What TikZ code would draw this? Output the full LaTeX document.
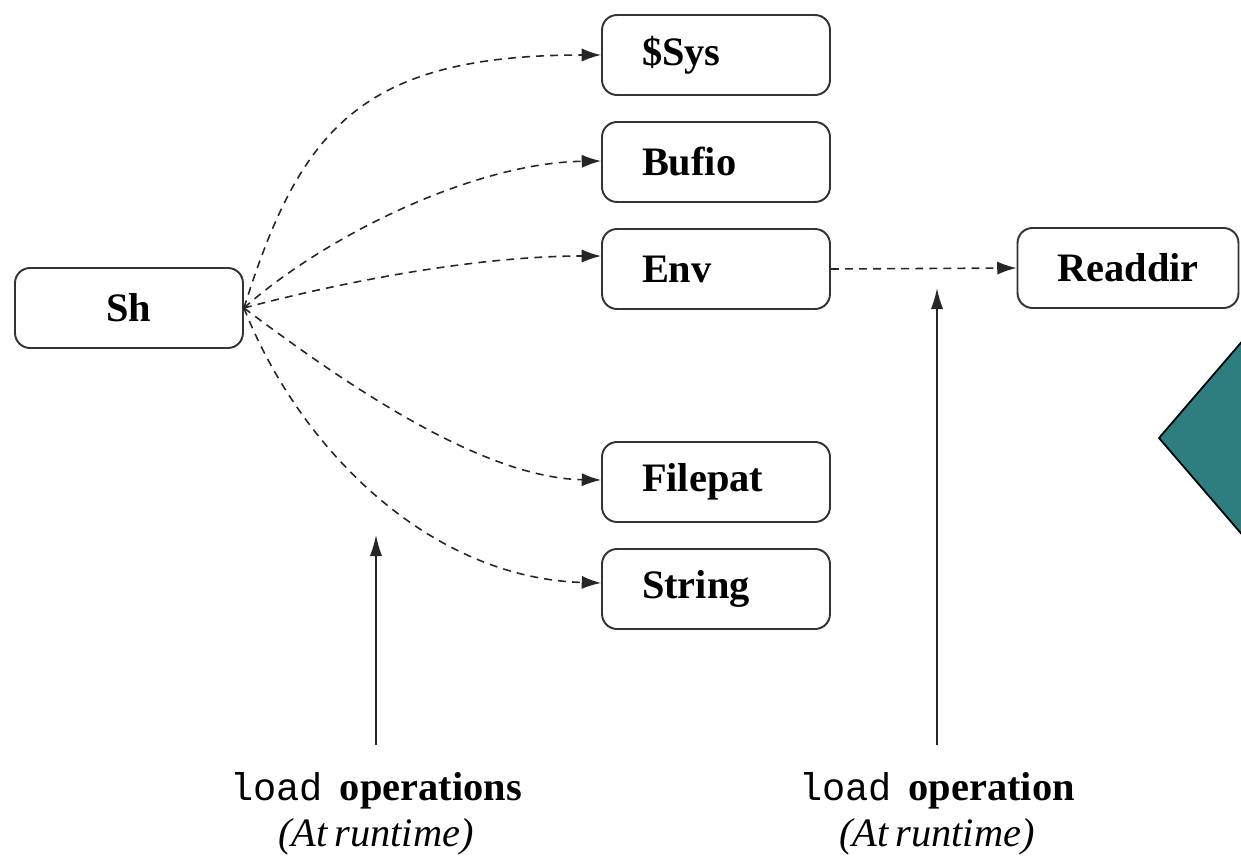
\documentclass[tikz,border=0pt]{standalone}
\usepackage{fontspec}
\setmainfont{Liberation Serif}
\setmonofont{Liberation Mono}
\usetikzlibrary{arrows.meta}
\definecolor{tealfill}{RGB}{46,125,127}
\tikzset{
  module/.style={draw=black!80, line width=1.1pt, rounded corners=0.3cm,
    minimum width=4.56cm, minimum height=1.6cm, font=\fontsize{23}{27}\selectfont\bfseries},
  leftmod/.style={module, text width=2.96cm, inner xsep=0.8cm, align=left},
  loadarrow/.style={draw=black!85, line width=0.9pt, dash pattern=on 4.5pt off 3.5pt,
    -{Latex[length=11pt,width=7.5pt]}},
  uparrow/.style={draw=black!85, line width=0.9pt, -{Latex[length=12pt,width=7pt]}},
  caption/.style={align=center, font=\fontsize{23}{27}\selectfont}
}
\begin{document}
\begin{tikzpicture}[x=0.02cm, y=-0.02cm]
\useasboundingbox (0,0) rectangle (1241,859);
% partially visible diamond at the right edge
\begin{scope}
  \clip (0,0) rectangle (1241,859);
  \draw[fill=tealfill, line width=1pt] (1159,438) -- (1300,274) -- (1441,438) -- (1300,602) -- cycle;
\end{scope}

\node[module] (sh) at (129,308) {Sh};
\node[leftmod] (sys) at (716,55) {\$Sys};
\node[leftmod] (bufio) at (716,162) {Bufio};
\node[leftmod] (env) at (716,269) {Env};
\node[leftmod] (filepat) at (716,482) {Filepat};
\node[leftmod] (string) at (716,589) {String};
\node[module, minimum width=4.42cm] (readdir) at (1128,268) {Readdir};

% modules loaded by the shell
\draw[loadarrow] (sh.east) .. controls (300,130) and (360,55) .. (sys.west);
\draw[loadarrow] (sh.east) .. controls (320,240) and (470,163) .. ([yshift=0.02cm]bufio.west);
\draw[loadarrow] (sh.east) .. controls (330,285) and (470,256) .. ([yshift=0.26cm]env.west);
\draw[loadarrow] (sh.east) .. controls (340,380) and (480,478) .. ([yshift=0.04cm]filepat.west);
\draw[loadarrow] (sh.east) .. controls (300,450) and (430,578) .. ([yshift=0.12cm]string.west);
\draw[loadarrow] (env.east) -- (readdir.west);

% captions and the arrows pointing at the load steps
\node[caption] (cap1) at (376,814) {{\fontsize{22}{27}\selectfont\texttt{load}}\, \textbf{operations}\\[-1pt]\textit{(At\,runtime)}};
\node[caption] (cap2) at (937,814) {{\fontsize{22}{27}\selectfont\texttt{load}}\, \textbf{operation}\\[-1pt]\textit{(At\,runtime)}};
\coordinate (base1) at (376,745);
\coordinate (base2) at (937,745);
\coordinate (tip1) at (376,535);
\coordinate (tip2) at (937,288);
\draw[uparrow] (base1) -- (tip1);
\draw[uparrow] (base2) -- (tip2);
\end{tikzpicture}
\end{document}
